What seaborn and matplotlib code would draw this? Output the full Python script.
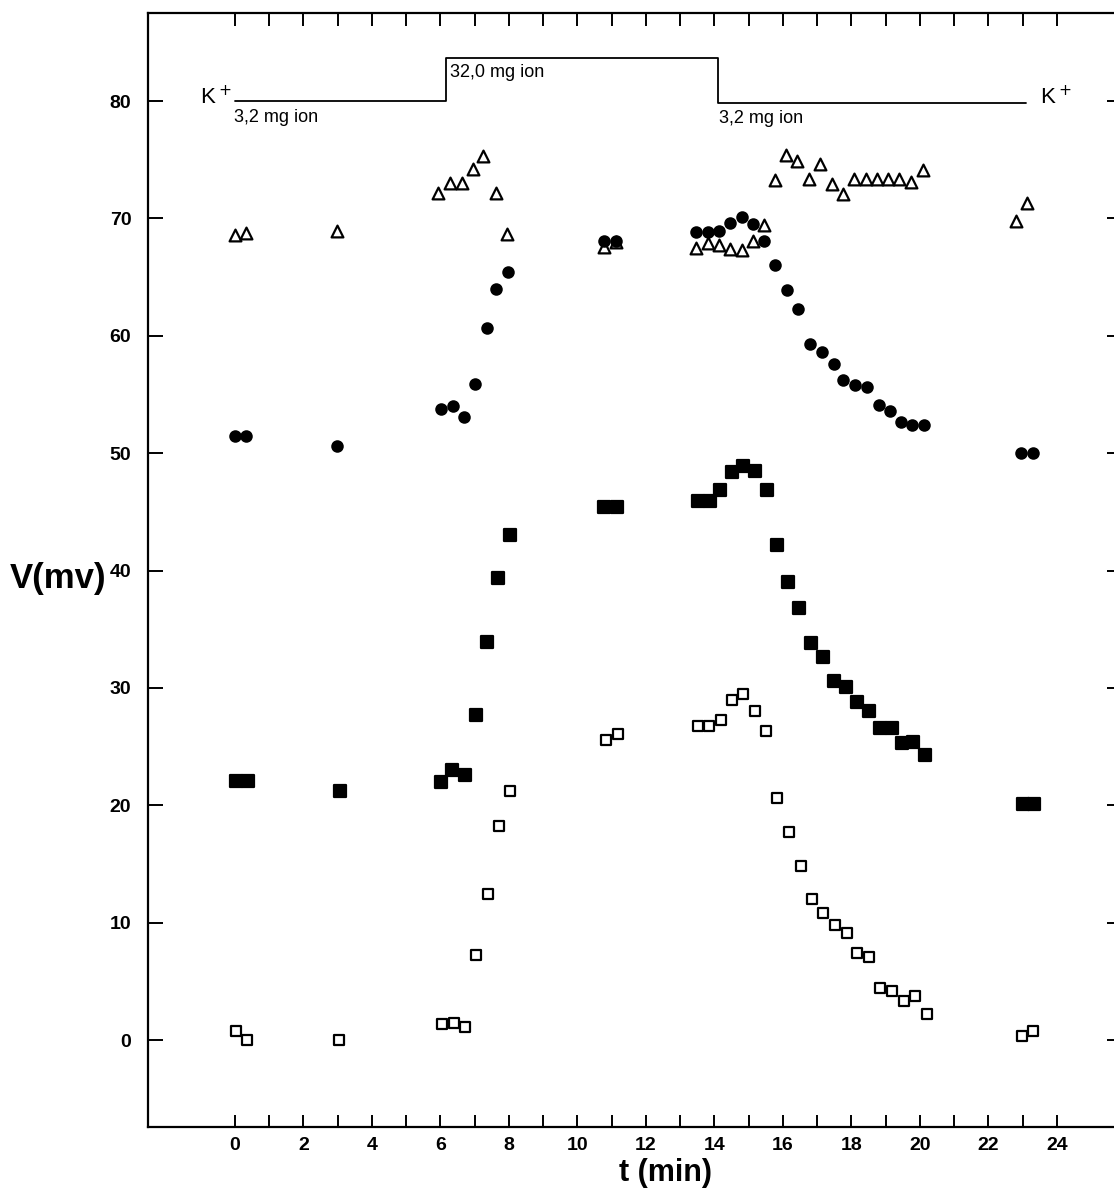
import pandas as pd
import matplotlib.pyplot as plt
import seaborn as sns

# ── Data ──────────────────────────────────────────────────────────────────────
tri_t = [0.0, 0.32, 2.98, 5.94, 6.28, 6.64, 6.95, 7.25, 7.61, 7.95, 10.77, 11.12,
         13.45, 13.82, 14.14, 14.45, 14.79, 15.14, 15.44, 15.76, 16.09, 16.41, 16.77,
         17.09, 17.42, 17.74, 18.08, 18.42, 18.74, 19.07, 19.4, 19.74, 20.08, 22.8, 23.13]
tri_v = [68.6, 68.8, 68.9, 72.2, 73.0, 73.0, 74.2, 75.3, 72.2, 68.7, 67.6, 68.0,
         67.5, 67.9, 67.7, 67.4, 67.3, 68.1, 69.4, 73.25, 75.4, 74.9, 73.4,
         74.6, 72.9, 72.1, 73.4, 73.4, 73.4, 73.4, 73.4, 73.1, 74.1, 69.8, 71.3]

dot_t = [0.0, 0.33, 2.98, 6.01, 6.36, 6.69, 7.0, 7.35, 7.63, 7.98, 10.78, 11.12,
         13.45, 13.8, 14.13, 14.45, 14.79, 15.14, 15.44, 15.78, 16.12, 16.45, 16.8,
         17.13, 17.48, 17.74, 18.09, 18.44, 18.79, 19.14, 19.45, 19.78, 20.11, 22.94, 23.29]
dot_v = [51.45, 51.45, 50.6, 53.75, 54.0, 53.1, 55.9, 60.7, 64.0, 65.45, 68.1, 68.1,
         68.85, 68.85, 68.9, 69.6, 70.1, 69.5, 68.1, 66.0, 63.9, 62.3, 59.3,
         58.6, 57.6, 56.2, 55.8, 55.6, 54.1, 53.6, 52.7, 52.4, 52.4, 50.0, 50.0]

fsq_t = [0.03, 0.38, 3.08, 6.01, 6.35, 6.72, 7.04, 7.36, 7.69, 8.03, 10.77, 11.14,
         13.51, 13.87, 14.16, 14.51, 14.84, 15.19, 15.52, 15.82, 16.16, 16.48, 16.81,
         17.16, 17.5, 17.83, 18.17, 18.5, 18.82, 19.17, 19.47, 19.8, 20.15, 23.0, 23.33]
fsq_v = [22.1, 22.1, 21.2, 22.0, 23.05, 22.6, 27.7, 33.9, 39.4, 43.0, 45.4, 45.4,
         45.9, 45.9, 46.85, 48.4, 48.95, 48.5, 46.9, 42.2, 39.0, 36.8, 33.8,
         32.6, 30.6, 30.1, 28.8, 28.0, 26.55, 26.55, 25.3, 25.4, 24.3, 20.1, 20.1]

osq_t = [0.03, 0.36, 3.05, 6.05, 6.39, 6.72, 7.05, 7.38, 7.72, 8.03, 10.83, 11.18,
         13.53, 13.85, 14.19, 14.5, 14.84, 15.17, 15.5, 15.82, 16.19, 16.52, 16.86,
         17.18, 17.51, 17.86, 18.17, 18.52, 18.83, 19.19, 19.53, 19.85, 20.2, 22.97, 23.3]
osq_v = [0.77, 0.0, 0.0, 1.36, 1.42, 1.13, 7.24, 12.46, 18.25, 21.2, 25.55, 26.06,
         26.8, 26.8, 27.3, 29.0, 29.5, 28.0, 26.3, 20.6, 17.75, 14.8, 12.04,
         10.8, 9.85, 9.1, 7.4, 7.05, 4.4, 4.2, 3.3, 3.75, 2.2, 0.35, 0.8]

# K+ concentration step trace (drawn in V units)
step_t = [0.0, 6.15, 14.1, 23.1]
step_v = [80.0, 83.7, 79.8, 79.8]

x_ticks = list(range(0, 25))
x_labels = [str(t) if t % 2 == 0 else "" for t in x_ticks]
y_ticks = list(range(0, 90, 10))

# ── Style ─────────────────────────────────────────────────────────────────────
sns.set_style("ticks")
plt.rcParams["font.family"] = ["Liberation Sans", "DejaVu Sans"]
plt.rcParams["axes.linewidth"] = 1.6
plt.rcParams["text.color"] = "black"
plt.rcParams["axes.labelcolor"] = "black"
plt.rcParams["axes.edgecolor"] = "black"
plt.rcParams["xtick.color"] = "black"
plt.rcParams["ytick.color"] = "black"

fig = plt.figure(figsize=(11.14, 11.90), dpi=100)
ax = fig.add_axes([148 / 1114, 63 / 1190, 974 / 1114, 1114 / 1190])

series = [
    (tri_t, tri_v, "^", "white", 72),
    (dot_t, dot_v, "o", "black", 55),
    (fsq_t, fsq_v, "s", "black", 65),
    (osq_t, osq_v, "s", "white", 48),
]
for t, v, mk, fc, s in series:
    df = pd.DataFrame({"t": t, "V": v})
    sns.scatterplot(data=df, x="t", y="V", ax=ax, marker=mk, s=s,
                    color=fc, edgecolor="black", linewidth=1.6, zorder=3)

ax.plot(step_t, step_v, drawstyle="steps-post", color="black", lw=1.3)

# annotations
ax.text(-0.1, 80.3, "K$^+$", ha="right", va="center", fontsize=16)
ax.text(23.5, 80.3, "K$^+$", ha="left", va="center", fontsize=16)
ax.text(-0.02, 78.6, "3,2 mg ion", ha="left", va="center", fontsize=13)
ax.text(6.28, 82.4, "32,0 mg ion", ha="left", va="center", fontsize=13)
ax.text(14.12, 78.5, "3,2 mg ion", ha="left", va="center", fontsize=13)

# axes
ax.set_xlim(-2.54, 25.9)
ax.set_ylim(-7.4, 87.5)
ax.set_xticks(x_ticks)
ax.set_xticklabels(x_labels, fontweight="bold", fontsize=14)
ax.set_yticks(y_ticks)
ax.set_yticklabels([str(y) for y in y_ticks], fontweight="bold", fontsize=14)
ax.tick_params(axis="x", direction="in", length=9, width=1.4, top=True, bottom=True, pad=7)
ax.tick_params(axis="y", direction="in", length=11, width=1.4, left=True, right=True, pad=12)

ax.set_xlabel("t (min)", fontsize=22, fontweight="bold", va="center")
ax.xaxis.set_label_coords(0.531, -0.041)
ax.set_ylabel("V(mv)", fontsize=25, fontweight="bold", rotation=0, ha="right", va="center")
ax.yaxis.set_label_coords(-0.043, 0.492)

fig.savefig("out.png", dpi=100)
